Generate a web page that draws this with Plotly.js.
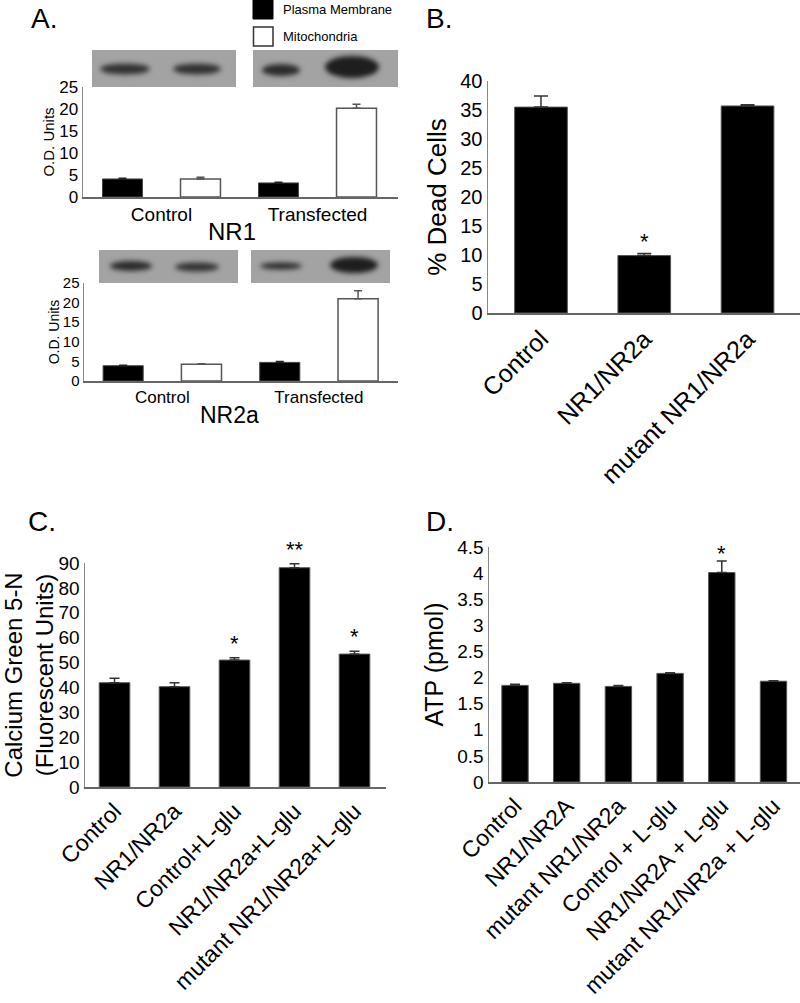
<!DOCTYPE html>
<html><head><meta charset="utf-8">
<script src="https://cdn.plot.ly/plotly-3.0.1.min.js"></script>
<style>html,body{margin:0;padding:0;background:#fff}#chart{width:800px;height:1003px}</style>
</head><body><div id="chart"></div>
<script>
// ---------- data ----------
const aGroups = ['Control', 'Transfected'];
const nr1Plasma = [4.1, 3.2];
const nr1PlasmaErr = [0.15, 0.15];
const nr1Mito = [4.1, 20.15];
const nr1MitoErr = [0.4, 0.95];
const nr2aPlasma = [3.9, 4.75];
const nr2aPlasmaErr = [0.1, 0.25];
const nr2aMito = [4.25, 21.0];
const nr2aMitoErr = [0.15, 2.0];

const bCats = ['Control', 'NR1/NR2a', 'mutant NR1/NR2a'];
const bDead = [35.5, 9.9, 35.7];
const bErr = [1.9, 0.35, 0.2];
const bStars = ['', '*', ''];

const cCats = ['Control', 'NR1/NR2a', 'Control+L-glu', 'NR1/NR2a+L-glu', 'mutant NR1/NR2a+L-glu'];
const cCalcium = [41.9, 40.3, 51.0, 88.1, 53.4];
const cErr = [1.8, 1.6, 0.9, 1.6, 1.1];
const cStars = ['', '', '*', '**', '*'];

const dCats = ['Control', 'NR1/NR2A', 'mutant NR1/NR2a', 'Control + L-glu', 'NR1/NR2A + L-glu', 'mutant NR1/NR2a + L-glu'];
const dATP = [1.85, 1.89, 1.83, 2.08, 4.01, 1.93];
const dErr = [0.02, 0.01, 0.02, 0.01, 0.22, 0.01];
const dStars = ['', '', '', '', '*', ''];

// ---------- helpers ----------
const W = 800, H = 1003;
const px = v => v / W;
const py = v => 1 - v / H;
const FONT = '"Liberation Sans", Arial, Helvetica, sans-serif';

function errUp(arr, color, thick, w) {
  return {type: 'data', array: arr, arrayminus: arr.map(() => 0), symmetric: false,
          color: color, thickness: thick, width: w, visible: true};
}

// ---------- western blot picture (decorative) ----------
function blotImage() {
  const cv = document.createElement('canvas');
  cv.width = W; cv.height = H;
  const ctx = cv.getContext('2d');
  const rects = [[92, 50, 236, 87], [253, 50, 398, 87], [99, 250, 238, 283], [251, 250, 390, 283]];
  const bands = [
    [125, 69, 25, 5.5, 0.85], [197, 69, 24, 5.5, 0.85],
    [281, 70, 19, 6, 0.9], [352, 67, 27, 11, 1.0],
    [131, 266, 21, 5, 0.9], [197, 267, 22, 4.5, 0.85],
    [281, 266, 21, 3.5, 0.9], [354, 265, 24, 8, 1.0]
  ];
  rects.forEach(r => {
    ctx.fillStyle = '#a3a3a3';
    ctx.fillRect(r[0], r[1], r[2] - r[0], r[3] - r[1]);
  });
  rects.forEach(r => {
    ctx.save();
    ctx.beginPath(); ctx.rect(r[0], r[1], r[2] - r[0], r[3] - r[1]); ctx.clip();
    ctx.filter = 'blur(2.5px)';
    bands.forEach(b => {
      if (b[0] > r[0] && b[0] < r[2] && b[1] > r[1] && b[1] < r[3]) {
        ctx.fillStyle = 'rgba(30,30,30,' + b[4] + ')';
        ctx.beginPath();
        ctx.ellipse(b[0], b[1], b[2], b[3], 0, 0, Math.PI * 2);
        ctx.fill();
      }
    });
    ctx.restore();
  });
  return cv.toDataURL('image/png');
}

// ---------- traces ----------
const traces = [
  {type: 'bar', name: 'Plasma Membrane', x: aGroups, y: nr1Plasma, xaxis: 'x', yaxis: 'y',
   width: 0.256, offset: -0.378,
   marker: {color: '#000', line: {color: '#444', width: 1}},
   error_y: errUp(nr1PlasmaErr, '#222', 1.5, 4)},
  {type: 'bar', name: 'Mitochondria', x: aGroups, y: nr1Mito, xaxis: 'x', yaxis: 'y',
   width: 0.256, offset: 0.122,
   marker: {color: '#fff', line: {color: '#555', width: 1.5}},
   error_y: errUp(nr1MitoErr, '#555', 1.5, 4)},
  {type: 'bar', name: 'Plasma Membrane', x: aGroups, y: nr2aPlasma, xaxis: 'x2', yaxis: 'y2',
   width: 0.256, offset: -0.378,
   marker: {color: '#000', line: {color: '#444', width: 1}},
   error_y: errUp(nr2aPlasmaErr, '#222', 1.5, 4)},
  {type: 'bar', name: 'Mitochondria', x: aGroups, y: nr2aMito, xaxis: 'x2', yaxis: 'y2',
   width: 0.256, offset: 0.122,
   marker: {color: '#fff', line: {color: '#555', width: 1.5}},
   error_y: errUp(nr2aMitoErr, '#555', 1.5, 4)},
  {type: 'bar', name: '% Dead Cells', x: bCats, y: bDead, xaxis: 'x3', yaxis: 'y3',
   marker: {color: '#000', line: {color: '#555', width: 1}},
   error_y: errUp(bErr, '#333', 1.5, 7)},
  {type: 'bar', name: 'Calcium Green 5-N', x: cCats, y: cCalcium, xaxis: 'x4', yaxis: 'y4',
   marker: {color: '#000', line: {color: '#555', width: 1}},
   error_y: errUp(cErr, '#333', 1.5, 5)},
  {type: 'bar', name: 'ATP', x: dCats, y: dATP, xaxis: 'x5', yaxis: 'y5',
   marker: {color: '#000', line: {color: '#555', width: 1}},
   error_y: errUp(dErr, '#333', 1.5, 5)}
];

// ---------- axes ----------
function xAx(domain, range, fs, anchor) {
  return {domain: domain, range: range, type: 'category', anchor: anchor,
          showgrid: false, zeroline: false, showline: true, linecolor: '#666', linewidth: 1.5,
          ticks: '', tickfont: {family: FONT, size: fs, color: '#000'}, fixedrange: true};
}
function yAx(domain, range, dtick, fs, title, tfs, anchor, standoff) {
  return {domain: domain, range: range, dtick: dtick, anchor: anchor,
          showgrid: false, zeroline: false, showline: true, linecolor: '#888', linewidth: 1.5,
          ticks: '', tickfont: {family: FONT, size: fs, color: '#000'}, fixedrange: true,
          title: {text: title, font: {family: FONT, size: tfs, color: '#000'}, standoff: standoff}};
}

const xA1 = xAx([px(83), px(398)], [-0.503, 1.516], 19, 'y');
xA1.tickangle = 0;
const xA2 = xAx([px(84), px(398)], [-0.50, 1.505], 17, 'y2');
xA2.tickangle = 0;
const xB = xAx([px(488), 1], [-0.513, 2.508], 25, 'y3');
xB.tickangle = -45;
const xC = xAx([px(85), px(386)], [-0.492, 4.525], 23, 'y4');
xC.tickangle = -45;
const xD = xAx([px(489), 1], [-0.503, 5.513], 23, 'y5');
xD.tickangle = -45;

const yA1 = yAx([py(197), py(87)], [0, 25], 5, 17, 'O.D. Units', 15, 'x', 1);
const yA2 = yAx([py(381), py(283)], [0, 25], 5, 15, 'O.D. Units', 14, 'x2', 0);
const yB = yAx([py(313), py(81)], [0, 40], 5, 20, '% Dead Cells', 26, 'x3', 6);
const yC = yAx([py(787), py(563)], [0, 90], 10, 19, 'Calcium Green 5-N<br>(Fluorescent Units)', 24, 'x4', 5);
const yD = yAx([py(782), py(547)], [0, 4.5], 0.5, 19, 'ATP (pmol)', 25, 'x5', 6);

// ---------- annotations ----------
const ann = [];
function txt(text, x, y, size, xanchor) {
  ann.push({text: text, xref: 'paper', yref: 'paper', x: px(x), y: py(y), showarrow: false,
            xanchor: xanchor || 'center', yanchor: 'middle',
            font: {family: FONT, size: size, color: '#000'}});
}
txt('A.', 29, 18, 28, 'left');
txt('B.', 424, 18, 28, 'left');
txt('C.', 26, 521, 28, 'left');
txt('D.', 424, 521, 28, 'left');
txt('NR1', 232, 232, 24);
txt('NR2a', 230, 415, 23);
txt('Plasma Membrane', 281, 9, 13, 'left');
txt('Mitochondria', 281, 37, 13, 'left');

function stars(cats, vals, errs, marks, xr, yr, shift) {
  cats.forEach((c, i) => {
    if (!marks[i]) return;
    ann.push({text: marks[i], xref: xr, yref: yr, x: c, y: vals[i] + errs[i], showarrow: false,
              xanchor: 'center', yanchor: 'bottom', yshift: shift,
              font: {family: FONT, size: 22, color: '#000'}});
  });
}
stars(bCats, bDead, bErr, bStars, 'x3', 'y3', -2);
stars(cCats, cCalcium, cErr, cStars, 'x4', 'y4', 0);
stars(dCats, dATP, dErr, dStars, 'x5', 'y5', -7);

// ---------- legend swatches (shapes) ----------
const shapes = [
  {type: 'rect', xref: 'paper', yref: 'paper', x0: px(253), x1: px(273), y0: py(19), y1: py(0),
   fillcolor: '#000', line: {color: '#000', width: 1}},
  {type: 'rect', xref: 'paper', yref: 'paper', x0: px(253.5), x1: px(273), y0: py(46), y1: py(27),
   fillcolor: '#fff', line: {color: '#333', width: 1.5}}
];

const layout = {
  width: W, height: H, margin: {l: 0, r: 0, t: 0, b: 0, pad: 0},
  paper_bgcolor: '#fff', plot_bgcolor: 'rgba(0,0,0,0)',
  showlegend: false, bargap: 0.49,
  font: {family: FONT, color: '#000'},
  xaxis: xA1, yaxis: yA1, xaxis2: xA2, yaxis2: yA2,
  xaxis3: xB, yaxis3: yB, xaxis4: xC, yaxis4: yC, xaxis5: xD, yaxis5: yD,
  annotations: ann, shapes: shapes,
  images: [{source: blotImage(), xref: 'paper', yref: 'paper', x: 0, y: 1, sizex: 1, sizey: 1,
            xanchor: 'left', yanchor: 'top', sizing: 'stretch', layer: 'below'}]
};

Plotly.newPlot('chart', traces, layout, {displayModeBar: false, staticPlot: true});
</script>
</body></html>
